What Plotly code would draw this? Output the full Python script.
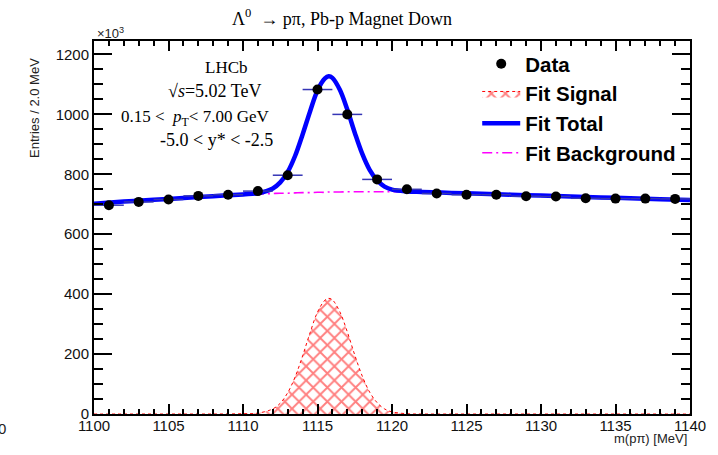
import plotly.graph_objects as go

# Binned data: bin centres (MeV) and entries (x10^3) per 2.0 MeV bin
mass_bins = [1101, 1103, 1105, 1107, 1109, 1111, 1113, 1115, 1117, 1119,
             1121, 1123, 1125, 1127, 1129, 1131, 1133, 1135, 1137, 1139]
entries = [697, 708, 716, 728, 732, 744, 797, 1083, 1000, 783,
           750, 736, 732, 732, 727, 726, 720, 719, 719, 718]
bin_half_width = [1.0] * len(mass_bins)

# Fit components sampled along the mass axis
fit_mass = [1100, 1102, 1104, 1106, 1108, 1110, 1111, 1112, 1112.5, 1113,
            1113.5, 1114, 1114.5, 1115, 1115.5, 1115.75, 1116, 1116.5, 1117, 1117.5,
            1118, 1118.5, 1119, 1119.5, 1120, 1121, 1122, 1124, 1126, 1128,
            1130, 1132, 1134, 1136, 1138, 1140]
fit_signal = [0, 0, 0, 0, 0, 1, 3, 17, 36, 71,
              124, 194, 271, 340, 380, 386, 381, 341, 274, 197,
              127, 73, 38, 17, 7, 1, 0, 0, 0, 0,
              0, 0, 0, 0, 0, 0]
fit_background = [702, 709, 715, 721, 727, 732, 734, 736, 737, 737,
                  738, 739, 739, 740, 740, 741, 741, 741, 742, 742,
                  742, 742, 742, 742, 742, 742, 741, 738, 735, 732,
                  729, 726, 723, 720, 717, 714]
fit_total = [s + b for s, b in zip(fit_signal, fit_background)]

W, H = 718, 455
L, R, T, B = 94, 19, 41, 41
YMAX = 1245

fig = go.Figure()

fig.add_trace(go.Scatter(
    x=fit_mass, y=fit_signal, name="Fit Signal", mode="lines",
    fill="tozeroy", fillcolor="rgba(255,255,255,0)",
    fillpattern=dict(shape="x", fgcolor="#ff0000", bgcolor="rgba(255,255,255,0)",
                     size=10, solidity=0.34),
    line=dict(color="#ff0000", width=1, dash="dot", shape="spline"),
    legendgroup="sig", legendrank=2,
))
fig.add_trace(go.Scatter(
    x=fit_mass, y=fit_background, name="Fit Background", mode="lines",
    line=dict(color="#ff00ff", width=1.6, dash="10px,4px,2px,4px", shape="spline"),
    legendgroup="bkg", legendrank=4,
))
fig.add_trace(go.Scatter(
    x=fit_mass, y=fit_total, name="Fit Total", mode="lines",
    line=dict(color="#0000ff", width=4.5, shape="spline"),
    legendgroup="tot", legendrank=3,
))
fig.add_trace(go.Scatter(
    x=mass_bins, y=entries, name="Data", mode="markers",
    marker=dict(color="black", size=10),
    error_x=dict(type="data", array=bin_half_width, color="#3535b5",
                 thickness=1.5, width=0),
    legendgroup="data", legendrank=1,
))

axis_font = dict(family="Liberation Sans", size=15, color="#111111")
fig.update_xaxes(
    range=[1100, 1140], tick0=1100, dtick=5,
    showline=True, linewidth=2, linecolor="black", mirror="allticks",
    ticks="inside", ticklen=10, tickwidth=2, tickcolor="black",
    minor=dict(dtick=1, ticks="inside", ticklen=5, tickwidth=2, tickcolor="black"),
    showgrid=False, zeroline=False, tickfont=axis_font, ticklabelstandoff=-3,
)
fig.update_yaxes(
    range=[0, YMAX], tick0=0, dtick=200,
    showline=True, linewidth=2, linecolor="black", mirror="allticks",
    ticks="inside", ticklen=18, tickwidth=2, tickcolor="black",
    minor=dict(dtick=50, ticks="inside", ticklen=9, tickwidth=2, tickcolor="black"),
    showgrid=False, zeroline=False, tickfont=axis_font,
)

def px(xp):
    return (xp - L) / (W - L - R)

def py(yp):
    return (H - B - yp) / (H - T - B)

serif = dict(family="Liberation Serif", size=17, color="black")
serif_big = dict(family="Liberation Serif", size=18, color="black")
sans = dict(family="Liberation Sans", size=13, color="#222222")

annotations = [
    dict(text="Λ<sup>0</sup>  → pπ, Pb-p Magnet Down", x=px(346), y=py(18), font=serif_big),
    dict(text="×10<sup>3</sup>", x=px(95), y=py(33), xanchor="left", font=sans),
    dict(text="Entries / 2.0 MeV", x=px(33), y=py(108), textangle=-90, font=sans),
    dict(text="m(pπ) [MeV]", x=px(698), y=py(438), xanchor="right", font=sans),
    dict(text="LHCb", x=px(228), y=py(67), font=serif),
    dict(text="√<i>s</i>=5.02 TeV", x=px(216), y=py(91), font=serif_big),
    dict(text="0.15 <  <i>p</i><sub>T</sub>< 7.00 GeV", x=px(197), y=py(118), font=serif),
    dict(text="-5.0 < y* < -2.5", x=px(218), y=py(140), font=serif_big),
    dict(text="0", x=px(7), y=py(428), xanchor="right",
         font=dict(family="Liberation Sans", size=15, color="#222222")),
]
for a in annotations:
    a.update(xref="paper", yref="paper", showarrow=False)
    a.setdefault("xanchor", "center")
    a.setdefault("yanchor", "middle")

fig.update_layout(
    width=W, height=H,
    margin=dict(l=L, r=R, t=T, b=B),
    paper_bgcolor="white", plot_bgcolor="white",
    annotations=annotations,
    showlegend=True,
    legend=dict(
        x=px(483), y=py(44), xanchor="left", yanchor="top",
        font=dict(family="Liberation Sans", size=20.5, color="black", weight="bold"),
        bgcolor="rgba(255,255,255,0)", tracegroupgap=5, itemwidth=38,
        traceorder="normal",
    ),
)

fig.write_html("out.html")
